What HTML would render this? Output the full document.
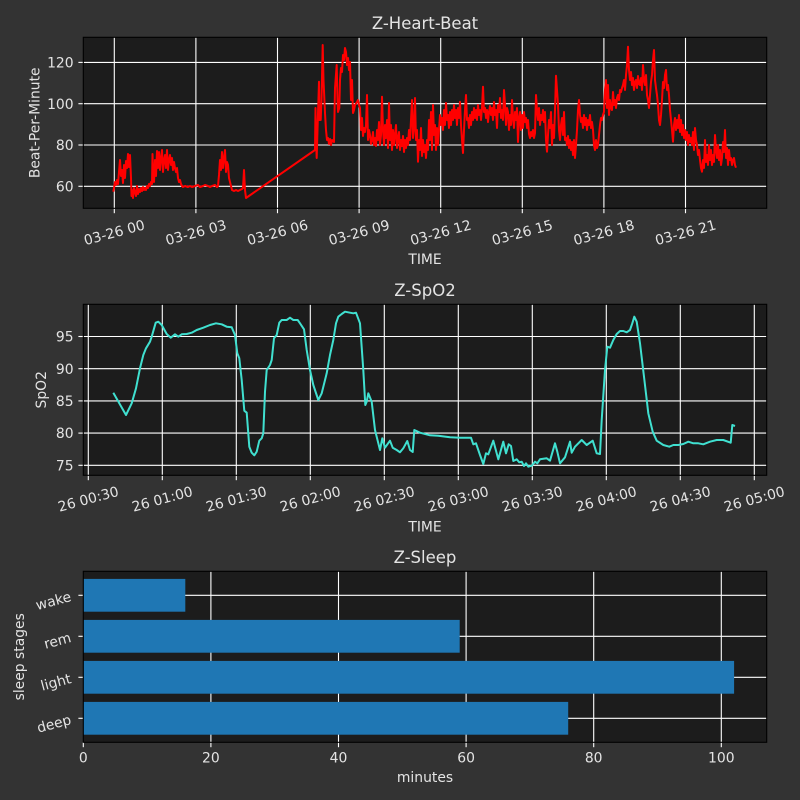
<!DOCTYPE html>
<html><head><meta charset="utf-8"><style>
html,body{margin:0;padding:0;background:#333333;}
svg{display:block;}
text{font-family:"DejaVu Sans","Liberation Sans",sans-serif;fill:#e4e4e4;}
</style></head><body>
<svg width="800" height="800" viewBox="0 0 800 800" xmlns="http://www.w3.org/2000/svg">
<rect width="800" height="800" fill="#333333"/>

<!-- ========== HEART ========== -->
<rect x="83.3" y="37.3" width="683.4" height="171" fill="#1c1c1c"/>
<g stroke="#ffffff" stroke-width="1.1">
<line x1="114.3" y1="37.3" x2="114.3" y2="208.3"/><line x1="195.9" y1="37.3" x2="195.9" y2="208.3"/>
<line x1="277.5" y1="37.3" x2="277.5" y2="208.3"/><line x1="359.1" y1="37.3" x2="359.1" y2="208.3"/>
<line x1="440.7" y1="37.3" x2="440.7" y2="208.3"/><line x1="522.3" y1="37.3" x2="522.3" y2="208.3"/>
<line x1="603.9" y1="37.3" x2="603.9" y2="208.3"/><line x1="685.5" y1="37.3" x2="685.5" y2="208.3"/>
<line x1="83.3" y1="62.4" x2="766.7" y2="62.4"/><line x1="83.3" y1="103.7" x2="766.7" y2="103.7"/>
<line x1="83.3" y1="145" x2="766.7" y2="145"/><line x1="83.3" y1="186.3" x2="766.7" y2="186.3"/>
<!-- ticks -->
<line x1="114.3" y1="208.3" x2="114.3" y2="213.2"/><line x1="195.9" y1="208.3" x2="195.9" y2="213.2"/>
<line x1="277.5" y1="208.3" x2="277.5" y2="213.2"/><line x1="359.1" y1="208.3" x2="359.1" y2="213.2"/>
<line x1="440.7" y1="208.3" x2="440.7" y2="213.2"/><line x1="522.3" y1="208.3" x2="522.3" y2="213.2"/>
<line x1="603.9" y1="208.3" x2="603.9" y2="213.2"/><line x1="685.5" y1="208.3" x2="685.5" y2="213.2"/>
<line x1="78.4" y1="62.4" x2="83.3" y2="62.4"/><line x1="78.4" y1="103.7" x2="83.3" y2="103.7"/>
<line x1="78.4" y1="145" x2="83.3" y2="145"/><line x1="78.4" y1="186.3" x2="83.3" y2="186.3"/>
</g>
<polyline fill="none" stroke="#ff0000" stroke-width="2" stroke-linejoin="round" points="
113.3,191.7 114,188 115,182 116,185 117,180 118,184 119,172 120,160 121,176 122,170 123,183 124,165 125,178 126,161 127,168 128,154 129,167 130,155 131,178 131.5,196 132,190 133,198 134,188 135,192 136,196 137,186 138,194 139,189 140,192 141,188 142,191 143,187 144,190 145,188 146,190 147,186 148,188 149,184 150,186 151,182 152,184 152.5,154 153,170 154,182 155,160 156,176 157,151 158,168 159,152 160,170 161,158 162,150 163,172 164,160 165,155 166,168 167,150 168,170 169,160 170,155 171,165 172,158 173,170 174,162 175,168 176,172 177,168 178,178 179,182 180,180 181,184 182,186 183,187 185,186 188,187 190,186 192,187 195,186 198,185 200,187 203,186 205,185 208,186 210,187 212,186 215,185 217,187 218,186 219,175 220,160 221,170 222,152 223,168 224,158 225,150 226,172 227,162 228,165 229,178 230,182 231,186 232,190 234,191 236,190 238,191 240,190 242,189 243,188 244,170 245,190 246,198
315,150 315.5,108 316,140 316.7,158 317.5,130 319,81.7 319.5,120 320.7,120 321.5,100 322.7,45 323.5,80 325,113 326,130 327,140 328,138 329,144 330,139 331,145 332,140 334,142 335,88 336.7,65 337.5,100 338,112 339.3,108 340,80 341,68 342,72 343,55 344,60 345,48 346,52 347,65 348,58 349,70 350,62 351,100 352,80 353,113 354,110 355,105 357,102 358,100 359,105 360,108 361,130 362,118 363,136 364,128 365,132 366,125 367,95 368,140 369,130 370,135 371,144 372,140 373,132 374,145 375,138 376,146 377,130 378,140 379,122 380,145 381,135 382,96.7 383,130 384,145 385,125 386,138 387,120 388,148 389,103 390,140 391,125 392,150 393,130 394,145 395,135 396,125 397,148 398,138 399,132 400,150 401,140 402,146 403,136 404,152 405,140 406,148 407,138 408,145 409,130 410,140 411,120 412,100 413,138 414,128 415,98 416,140 417,130 418,161.7 419,140 420,150 421,128 422,156 423,140 424,152 425,145 426,158 427,140 428,150 429,120 430,140 431,112 432,150 433,105 434,135 435,125 436,150 437,128 438,145 440,115 441,125 442,118 443,130 444,110 445,125 446,103 447,120 448,115 449,128 450,112 451,125 452,110 453,120 454,105 455,118 456,110 457,125 458,108 459,118 460,101.7 461,125 462,140 463,153 464,130 465,110 466,95 467,120 468,118 469,128 470,115 471,125 472,112 473,120 474,108 475,118 476,110 477,120 478,105 479,115 480,110 481,120 482,108 483,86.7 484,112 485,108 486,118 487,110 488,122 489,112 490,106 491,115 492,108 493,120 494,102 495,115 496,110 497,128 498,105 499,112 500,98 501,118 502,110 503,120 504,90 505,105 506,125 507,108 508,112 509,130 510,115 511,125 512,100 513,118 514,128 515,112 516,120 517,108 518,142 519,118 520,112 521,130 522,115 523,128 524,112 525,122 526,118
527,128 528,120 529,134 530,138 531,132 532,136 533,130 534,138 535,133 536,95 537,110 538,120 539,108 540,125 541,115 542,120 543,110 544,122 545,112 546,140 547,151.7 548,135 549,120 550,128 551,112 552,145 553,125 554,138 555,110 556,75.7 557,90 558,105 559,130 560,140 561,125 562,118 563,135 564,112 565,140 566,138 567,145 568,136 569,148 570,140 571,150 572,142 573,155 574,140 575,158 576,145 577,130 578,110 579,100 580,115 581,122 582,118 583,128 584,115 585,125 586,118 587,130 588,120 589,125 590,115 591,128 592,122 593,130 594,145 595,150 596,140 597,148 598,145 599,135 600,125 601,118 602,120 603,115 604,112 605,90 606,80 607,108 608,85 609,115 610,100 611,108 612,110 613,92 614,105 615,100 616,108 617,98 618,95 619,100 620,90 621,92 622,88 623,85 624,80 625,90 626,75 627,65 628,46.7 629,70 630,80 631,72 632,85 633,78 634,90 635,82 636,80 637,88 638,76 639,84 640,85 641,78 642,90 643,65 644,80 645,85 646,75 647,95 648,100 649,108 650,95 651,82 652,75 653,60 654,50 655,80 656,88 657,95 658,105 659,120 660,125 661,115 662,100 663,82 664,88 665,75 666,70 667,90 668,85 669,95 670,110 671,120 672,130 673,141.7 674,125 675,118 676,130 677,120 678,128 679,115 680,132 681,120 682,135 683,125 684,138 685,130 686,140 687,132 688,145 689,135 690,142 691,138 692,145 693,132 694,150 695,128 696,140 697,145 698,155 699,150 700,160 701,168 702,171.7 703,160 704,168 705,140 706,162 707,155 708,165 709,145 710,160 711,150 712,165 713,155 714,162 715,135 716,150 717,158 718,145 719,160 720,150 721,165 722,158 723,142 724,152 725,130 726,158 727,148 728,165 729,150 730,160 731,158 732,165 733,160 734,158 735,165 736,167.7"/>
<rect x="83.3" y="37.3" width="683.4" height="171" fill="none" stroke="#000" stroke-width="1.1"/>
<text x="425" y="29" font-size="16.5" text-anchor="middle">Z-Heart-Beat</text>
<g font-size="13.9" text-anchor="end">
<text x="73.6" y="67.5">120</text><text x="73.6" y="108.8">100</text><text x="73.6" y="150.1">80</text><text x="73.6" y="191.4">60</text>
</g>
<g font-size="13.9" text-anchor="middle">
<text transform="translate(114.3,232.5) rotate(-15)" y="4.8">03-26 00</text>
<text transform="translate(195.9,232.5) rotate(-15)" y="4.8">03-26 03</text>
<text transform="translate(277.5,232.5) rotate(-15)" y="4.8">03-26 06</text>
<text transform="translate(359.1,232.5) rotate(-15)" y="4.8">03-26 09</text>
<text transform="translate(440.7,232.5) rotate(-15)" y="4.8">03-26 12</text>
<text transform="translate(522.3,232.5) rotate(-15)" y="4.8">03-26 15</text>
<text transform="translate(603.9,232.5) rotate(-15)" y="4.8">03-26 18</text>
<text transform="translate(685.5,232.5) rotate(-15)" y="4.8">03-26 21</text>
<text x="425" y="264">TIME</text>
<text transform="translate(39.5,122.8) rotate(-90)">Beat-Per-Minute</text>
</g>

<!-- ========== SPO2 ========== -->
<rect x="83.3" y="304.3" width="683.4" height="171" fill="#1c1c1c"/>
<g stroke="#ffffff" stroke-width="1.1">
<line x1="88.3" y1="304.3" x2="88.3" y2="475.3"/><line x1="162.3" y1="304.3" x2="162.3" y2="475.3"/>
<line x1="236.3" y1="304.3" x2="236.3" y2="475.3"/><line x1="310.3" y1="304.3" x2="310.3" y2="475.3"/>
<line x1="384.3" y1="304.3" x2="384.3" y2="475.3"/><line x1="458.3" y1="304.3" x2="458.3" y2="475.3"/>
<line x1="532.3" y1="304.3" x2="532.3" y2="475.3"/><line x1="606.3" y1="304.3" x2="606.3" y2="475.3"/>
<line x1="680.3" y1="304.3" x2="680.3" y2="475.3"/><line x1="754.3" y1="304.3" x2="754.3" y2="475.3"/>
<line x1="83.3" y1="336.5" x2="766.7" y2="336.5"/><line x1="83.3" y1="368.7" x2="766.7" y2="368.7"/>
<line x1="83.3" y1="400.9" x2="766.7" y2="400.9"/><line x1="83.3" y1="433.1" x2="766.7" y2="433.1"/>
<line x1="83.3" y1="465.3" x2="766.7" y2="465.3"/>
<line x1="88.3" y1="475.3" x2="88.3" y2="480.2"/><line x1="162.3" y1="475.3" x2="162.3" y2="480.2"/>
<line x1="236.3" y1="475.3" x2="236.3" y2="480.2"/><line x1="310.3" y1="475.3" x2="310.3" y2="480.2"/>
<line x1="384.3" y1="475.3" x2="384.3" y2="480.2"/><line x1="458.3" y1="475.3" x2="458.3" y2="480.2"/>
<line x1="532.3" y1="475.3" x2="532.3" y2="480.2"/><line x1="606.3" y1="475.3" x2="606.3" y2="480.2"/>
<line x1="680.3" y1="475.3" x2="680.3" y2="480.2"/><line x1="754.3" y1="475.3" x2="754.3" y2="480.2"/>
<line x1="78.4" y1="336.5" x2="83.3" y2="336.5"/><line x1="78.4" y1="368.7" x2="83.3" y2="368.7"/>
<line x1="78.4" y1="400.9" x2="83.3" y2="400.9"/><line x1="78.4" y1="433.1" x2="83.3" y2="433.1"/>
<line x1="78.4" y1="465.3" x2="83.3" y2="465.3"/>
</g>
<polyline fill="none" stroke="#40e0d0" stroke-width="2" stroke-linejoin="round" points="
113.3,392.7 126,415 131.7,403.3 136,388.3 140,368.3 143.3,355 146,348.3 150,341.7 151.7,336.7 155.7,322.7 158.3,321.7 161.7,325 166.7,334 170.7,337.7 175,334.3 178.3,336.7 181.7,334.3 186.7,334 191.7,332.7 196.7,330 203.3,327.7 210,325 216,323.3 221.7,324.3 226.7,326.7 231.7,327.3 235,335 237.3,353.3 239.3,358.3 241.7,380 244.3,410.7 246.7,412.7 249.3,446.7 251.7,452.7 254.3,455.3 256.7,451.7 259.3,440.7 261.7,438.3 263.3,433.3 265,391.7 266.7,370 270,365 271.7,360 274,338.3 276.7,335 279.3,322.7 281.7,320 286.7,320 290,317.7 293.3,320 297.7,320 300,323.3 304,329.3 306.7,350 310,370 313.3,385 318.3,400 321.7,393.3 326.7,373.3 330,355 333.3,340 336,323.3 338.3,316.7 341.7,314 345,311.7 350,312.7 353.3,313.3 356,312.7 360,323.3 363.3,370 365.3,405 366.7,401.7 368.3,393.3 371.7,401.7 375,430 380,450 382.3,438.3 385,447.7 390,440.7 392.7,447.7 396.7,450 400,452.3 403.3,448.3 407.3,441 410,450 412.7,452 414.3,430 420,432.7 430,435.3 438.3,435.7 450,437.3 460,437.7 471,437.7 473.3,444.3 476,443.3 480,455 483.3,464 486,453.3 488.3,454.3 493.3,440.7 498.3,459.3 503.3,441.7 506,453.3 508.7,444.3 511,446 513.3,461 516.7,459.3 519.3,462.3 521.7,461.7 524,466 526,463.3 528.3,466.7 531.7,465.7 535,461.7 537.3,463.3 540,459.3 546.7,458.3 550,460.7 555,443.3 557.3,451.7 560,463.3 565,457.3 570,441.7 571.7,452.7 575,446.7 581.7,440 586.7,445 592.7,440.7 596.7,453.3 600,454 601.7,420 605,370 607.3,346.7 610,347.7 613.3,340 616.7,334 620,331 623.3,331 626.7,332.3 630,330 632.3,323.3 634.3,316.7 636.7,321.7 640,343.3 644,376.7 648.3,413.3 652.7,431.7 656.7,440.7 663.3,445 669.3,446.7 673.3,445 678.3,445 683.3,444 688.3,441.7 693.3,443.3 698.3,443.3 703.3,444.3 710,441.7 716.7,440 723.3,440 730.7,442.7 732.3,425 735,426"/>
<rect x="83.3" y="304.3" width="683.4" height="171" fill="none" stroke="#000" stroke-width="1.1"/>
<text x="425" y="296" font-size="16.5" text-anchor="middle">Z-SpO2</text>
<g font-size="13.9" text-anchor="end">
<text x="73.6" y="341.6">95</text><text x="73.6" y="373.8">90</text><text x="73.6" y="406">85</text><text x="73.6" y="438.2">80</text><text x="73.6" y="470.4">75</text>
</g>
<g font-size="13.9" text-anchor="middle">
<text transform="translate(88.3,499) rotate(-15)" y="4.8">26 00:30</text>
<text transform="translate(162.3,499) rotate(-15)" y="4.8">26 01:00</text>
<text transform="translate(236.3,499) rotate(-15)" y="4.8">26 01:30</text>
<text transform="translate(310.3,499) rotate(-15)" y="4.8">26 02:00</text>
<text transform="translate(384.3,499) rotate(-15)" y="4.8">26 02:30</text>
<text transform="translate(458.3,499) rotate(-15)" y="4.8">26 03:00</text>
<text transform="translate(532.3,499) rotate(-15)" y="4.8">26 03:30</text>
<text transform="translate(606.3,499) rotate(-15)" y="4.8">26 04:00</text>
<text transform="translate(680.3,499) rotate(-15)" y="4.8">26 04:30</text>
<text transform="translate(754.3,499) rotate(-15)" y="4.8">26 05:00</text>
<text x="425" y="531.5">TIME</text>
<text transform="translate(46,389.8) rotate(-90)">SpO2</text>
</g>

<!-- ========== SLEEP ========== -->
<rect x="83.3" y="571.3" width="683.4" height="171" fill="#1c1c1c"/>
<g stroke="#ffffff" stroke-width="1.1">
<line x1="210.9" y1="571.3" x2="210.9" y2="742.3"/><line x1="338.5" y1="571.3" x2="338.5" y2="742.3"/>
<line x1="466.1" y1="571.3" x2="466.1" y2="742.3"/><line x1="593.7" y1="571.3" x2="593.7" y2="742.3"/>
<line x1="721.3" y1="571.3" x2="721.3" y2="742.3"/>
<line x1="83.3" y1="595.3" x2="766.7" y2="595.3"/><line x1="83.3" y1="636.3" x2="766.7" y2="636.3"/>
<line x1="83.3" y1="677.3" x2="766.7" y2="677.3"/><line x1="83.3" y1="718.3" x2="766.7" y2="718.3"/>
<line x1="83.3" y1="742.3" x2="83.3" y2="747.2"/><line x1="210.9" y1="742.3" x2="210.9" y2="747.2"/>
<line x1="338.5" y1="742.3" x2="338.5" y2="747.2"/><line x1="466.1" y1="742.3" x2="466.1" y2="747.2"/>
<line x1="593.7" y1="742.3" x2="593.7" y2="747.2"/><line x1="721.3" y1="742.3" x2="721.3" y2="747.2"/>
<line x1="78.4" y1="595.3" x2="83.3" y2="595.3"/><line x1="78.4" y1="636.3" x2="83.3" y2="636.3"/>
<line x1="78.4" y1="677.3" x2="83.3" y2="677.3"/><line x1="78.4" y1="718.3" x2="83.3" y2="718.3"/>
</g>
<g fill="#1f77b4">
<rect x="83.3" y="578.9" width="102" height="32.8"/>
<rect x="83.3" y="619.9" width="376.4" height="32.8"/>
<rect x="83.3" y="660.9" width="650.8" height="32.8"/>
<rect x="83.3" y="701.9" width="484.9" height="32.8"/>
</g>
<rect x="83.3" y="571.3" width="683.4" height="171" fill="none" stroke="#000" stroke-width="1.1"/>
<text x="425" y="563" font-size="16.5" text-anchor="middle">Z-Sleep</text>
<g font-size="13.9" text-anchor="middle">
<text x="83.3" y="762.5">0</text><text x="210.9" y="762.5">20</text><text x="338.5" y="762.5">40</text>
<text x="466.1" y="762.5">60</text><text x="593.7" y="762.5">80</text><text x="721.3" y="762.5">100</text>
<text x="425" y="782">minutes</text>
<text transform="translate(24,656.8) rotate(-90)">sleep stages</text>
</g>
<g font-size="13.9" text-anchor="end">
<text transform="translate(72,600.8) rotate(-15)">wake</text>
<text transform="translate(72,641.8) rotate(-15)">rem</text>
<text transform="translate(72,682.8) rotate(-15)">light</text>
<text transform="translate(72,723.8) rotate(-15)">deep</text>
</g>
</svg>
</body></html>
